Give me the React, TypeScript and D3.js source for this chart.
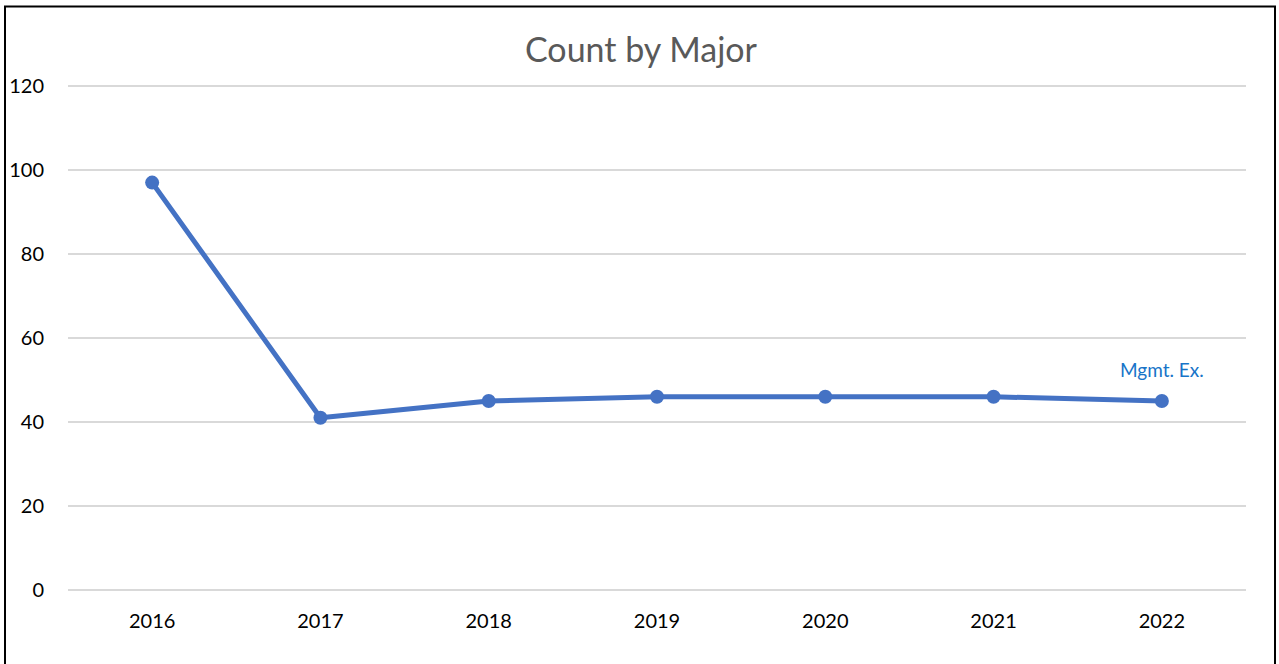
import React from "react";
import * as d3 from "d3";

const years = ["2016", "2017", "2018", "2019", "2020", "2021", "2022"];
const counts = [97, 41, 45, 46, 46, 46, 45];
const yTicks = [0, 20, 40, 60, 80, 100, 120];
const seriesName = "Mgmt. Ex.";
const title = "Count by Major";

export default function App() {
  const W = 1279, H = 664;
  const left = 68, right = 1246, top = 86, bottom = 590;
  const x = d3.scaleBand<string>().domain(years).range([left, right]);
  const y = d3.scaleLinear().domain([0, 120]).range([bottom, top]);
  const line = d3
    .line<number>()
    .x((_, i) => (x(years[i]) as number) + x.bandwidth() / 2)
    .y((d) => y(d));
  const font = "Lato, 'Open Sans', sans-serif";
  const lastX = (x(years[years.length - 1]) as number) + x.bandwidth() / 2;
  const lastY = y(counts[counts.length - 1]);
  return (
    <div style={{ position: "fixed", left: 0, top: 0 }}>
      <svg width={W} height={H} style={{ display: "block", background: "#fff" }}>
        <rect x={5} y={6.5} width={1270} height={700} fill="#fff" stroke="#000" strokeWidth={2} />
        <text x={641} y={62} textAnchor="middle" fontFamily={font} fontSize={34} fill="#595959">
          {title}
        </text>
        {yTicks.map((t) => (
          <g key={t}>
            <line x1={left} x2={right} y1={y(t)} y2={y(t)} stroke="#d9d9d9" strokeWidth={2} />
            <text x={44} y={y(t)} dy="0.35em" textAnchor="end" fontFamily={font} fontSize={20} fill="#000">
              {t}
            </text>
          </g>
        ))}
        {years.map((yr) => (
          <text
            key={yr}
            x={(x(yr) as number) + x.bandwidth() / 2}
            y={621}
            dy="0.35em"
            textAnchor="middle"
            fontFamily={font}
            fontSize={20}
            fill="#000"
          >
            {yr}
          </text>
        ))}
        <path d={line(counts) || ""} fill="none" stroke="#4472C4" strokeWidth={5} strokeLinejoin="round" />
        {counts.map((c, i) => (
          <circle
            key={i}
            cx={(x(years[i]) as number) + x.bandwidth() / 2}
            cy={y(c)}
            r={7}
            fill="#4472C4"
          />
        ))}
        <text x={lastX} y={lastY - 24} textAnchor="middle" fontFamily={font} fontSize={19} fill="#1874C8">
          {seriesName}
        </text>
      </svg>
    </div>
  );
}
